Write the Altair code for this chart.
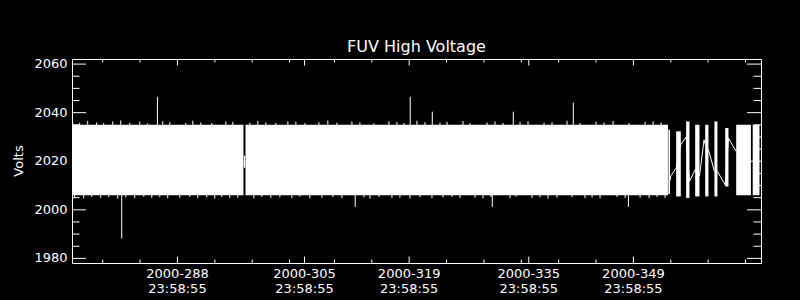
import altair as alt
import pandas as pd

FONT = "DejaVu Sans"
W, H = 689, 204

# ---- data (day of year 2000, fractional; volts) ----
# dense sampling blocks: start day, end day, min volts, max volts
seg_start = [274.89, 298.10, 354.68, 355.72, 357.05, 358.26, 359.60, 360.84, 362.28, 363.75, 365.96]
seg_end   = [297.83, 354.62, 354.90, 356.34, 357.50, 358.84, 360.04, 361.24, 362.72, 365.72, 366.87]
seg_lo    = [2006.0, 2006.0, 2006.5, 2005.5, 2004.9, 2005.5, 2005.5, 2005.5, 2009.6, 2006.0, 2006.0]
seg_hi    = [2035.0, 2035.0, 2033.0, 2032.3, 2036.4, 2035.0, 2035.0, 2036.4, 2033.7, 2035.0, 2035.0]

# sparse samples joined by lines
zig_day = [354.90, 355.01, 355.72, 356.34, 357.05, 357.50, 358.26, 358.84, 359.45, 359.60,
           360.04, 360.84, 361.24, 362.28, 362.72, 363.75]
zig_val = [2012.0, 2014.0, 2017.2, 2026.8, 2030.0, 2011.7, 2016.5, 2014.0, 2028.8, 2027.0,
           2024.7, 2015.8, 2015.8, 2010.3, 2029.5, 2024.0]

# gap sample
gap_day = [297.97]
gap_lo = [2017.3]
gap_hi = [2022.3]

# outliers
out_day = [281.54, 286.32, 312.78, 320.14, 323.09, 331.12, 333.93, 341.96, 349.33]
out_val = [1988.2, 2046.5, 2001.2, 2046.5, 2040.4, 2001.2, 2040.4, 2044.1, 2001.2]

# small excursions above the band
top_day = [274.98, 275.92, 276.99, 278.19, 279.13, 280.34, 281.41, 282.61, 283.95, 285.02,
           287.03, 287.97, 290.11, 291.05, 292.12, 293.59, 295.47, 296.40, 298.68, 299.75,
           300.82, 302.16, 303.77, 304.84, 306.04, 307.92, 309.12, 310.33, 312.34, 313.41,
           315.28, 317.29, 318.36, 319.30, 321.04, 322.11, 324.12, 325.06, 327.20, 328.14,
           330.41, 331.48, 332.55, 334.83, 335.90, 338.04, 339.11, 341.12, 342.86, 345.01,
           346.08, 347.28, 349.42, 351.57, 352.64, 353.71]
top_val = [2036.2, 2035.8, 2036.6, 2036.0, 2035.7, 2036.4, 2036.8, 2035.9, 2036.3, 2035.6,
           2036.5, 2036.1, 2035.8, 2036.7, 2036.0, 2035.7, 2036.4, 2036.2, 2035.9, 2036.6,
           2036.0, 2035.8, 2036.5, 2036.3, 2035.7, 2036.1, 2036.8, 2035.9, 2036.4, 2036.0,
           2035.6, 2036.5, 2036.2, 2035.8, 2036.7, 2036.1, 2035.9, 2036.3, 2036.6, 2035.7,
           2036.0, 2036.4, 2035.8, 2036.2, 2036.5, 2035.9, 2036.1, 2036.7, 2035.8, 2036.3,
           2036.0, 2036.6, 2035.7, 2036.2, 2036.4, 2035.9]

# small excursions below the band
bot_day = [275.25, 276.45, 277.53, 278.73, 279.80, 281.01, 282.08, 283.28, 284.49, 285.56,
           286.63, 287.70, 289.31, 290.65, 291.72, 292.92, 293.99, 294.93, 296.00, 297.07,
           299.22, 300.29, 301.49, 302.70, 304.30, 305.37, 306.71, 308.32, 309.79, 311.00,
           313.94, 314.75, 315.95, 317.69, 318.76, 320.10, 321.44, 323.05, 324.52, 325.73,
           326.80, 328.81, 329.88, 330.95, 333.49, 334.29, 336.44, 337.51, 338.58, 339.78,
           341.79, 343.53, 344.47, 345.54, 347.82, 348.89, 350.90, 352.10, 353.17, 354.24]
bot_val = [2005.0, 2004.7, 2005.3, 2004.9, 2005.2, 2004.6, 2005.1, 2004.8, 2005.4, 2004.9,
           2005.2, 2004.7, 2005.0, 2005.3, 2004.8, 2005.1, 2004.6, 2005.2, 2004.9, 2005.0,
           2004.7, 2005.3, 2004.9, 2005.1, 2004.8, 2005.4, 2004.7, 2005.0, 2005.2, 2004.8,
           2005.1, 2004.6, 2005.3, 2004.9, 2005.0, 2004.7, 2005.2, 2004.8, 2005.1, 2005.3,
           2004.9, 2005.0, 2004.7, 2005.2, 2004.8, 2005.4, 2004.9, 2005.1, 2004.6, 2005.0,
           2005.2, 2004.8, 2005.1, 2004.7, 2005.3, 2004.9, 2005.0, 2004.8, 2005.2, 2004.9]

# axes
y_major = [1980, 2000, 2020, 2040, 2060]
y_labels = ["1980", "2000", "2020", "2040", "2060"]
y_minor = [1985, 1990, 1995, 2005, 2010, 2015, 2025, 2030, 2035, 2045, 2050, 2055]
x_major = [288.9992, 305.9992, 319.9992, 335.9992, 349.9992]
x_labels = ["2000-288\n23:58:55", "2000-305\n23:58:55", "2000-319\n23:58:55",
            "2000-335\n23:58:55", "2000-349\n23:58:55"]
x_minor = [279, 284, 294, 299, 304, 310, 315, 325, 330, 335, 340, 345, 355, 360, 365]
title_text = ["FUV High Voltage"]
y_title = ["Volts"]

xs = alt.Scale(domain=[274.89, 367.07], nice=False, zero=False)
ys = alt.Scale(domain=[1978.1, 2062.1], nice=False, zero=False)
WHITE = "white"

seg = pd.DataFrame(dict(s=seg_start, e=seg_end, lo=seg_lo, hi=seg_hi))
band = alt.Chart(seg).mark_rect(color=WHITE, strokeWidth=0).encode(
    x=alt.X("s:Q", scale=xs, axis=None),
    x2="e:Q",
    y=alt.Y("lo:Q", scale=ys, axis=None),
    y2="hi:Q",
)

zig = alt.Chart(pd.DataFrame(dict(d=zig_day, v=zig_val))).mark_line(
    color=WHITE, strokeWidth=1).encode(
    x=alt.X("d:Q", scale=xs, axis=None),
    y=alt.Y("v:Q", scale=ys, axis=None),
    order="d:Q",
)

gap = alt.Chart(pd.DataFrame(dict(d=gap_day, lo=gap_lo, hi=gap_hi))).mark_rule(
    color=WHITE, strokeWidth=1.5).encode(
    x=alt.X("d:Q", scale=xs, axis=None),
    y=alt.Y("lo:Q", scale=ys, axis=None), y2="hi:Q")


def spikes(days, vals, base):
    df = pd.DataFrame(dict(d=days, v=vals))
    return alt.Chart(df).mark_rule(color=WHITE, strokeWidth=1).encode(
        x=alt.X("d:Q", scale=xs, axis=None),
        y=alt.Y("v:Q", scale=ys, axis=None),
        y2=alt.datum(base),
    )


out_l = spikes(out_day, out_val, 2020)
top_l = spikes(top_day, top_val, 2034)
bot_l = spikes(bot_day, bot_val, 2007)


def yticks(vals, x0, x1):
    return alt.Chart(pd.DataFrame(dict(v=vals))).mark_rule(color=WHITE, strokeWidth=1).encode(
        y=alt.Y("v:Q", scale=ys, axis=None), x=alt.value(x0), x2=alt.value(x1))


def xticks(vals, y0, y1):
    return alt.Chart(pd.DataFrame(dict(d=vals))).mark_rule(color=WHITE, strokeWidth=1).encode(
        x=alt.X("d:Q", scale=xs, axis=None), y=alt.value(y0), y2=alt.value(y1))


ticks = [
    yticks(y_major, 0, 14), yticks(y_minor, 0, 7.5),
    yticks(y_major, W, W - 14), yticks(y_minor, W, W - 7.5),
    xticks(x_major, H, H - 6.5), xticks(x_minor, H, H - 3.5),
    xticks(x_major, 0, 6.5), xticks(x_minor, 0, 3.5),
]

xlab = alt.Chart(pd.DataFrame(dict(d=x_major, t=x_labels))).mark_text(
    color=WHITE, font=FONT, fontSize=13, align="center", baseline="alphabetic",
    lineBreak="\n", lineHeight=15).encode(
    x=alt.X("d:Q", scale=xs, axis=None), y=alt.value(218.7), text="t:N")

ylab = alt.Chart(pd.DataFrame(dict(v=y_major, t=y_labels))).mark_text(
    color=WHITE, font=FONT, fontSize=13, align="right", baseline="middle").encode(
    y=alt.Y("v:Q", scale=ys, axis=None), x=alt.value(-4.5), text="t:N")

ytitle = alt.Chart(pd.DataFrame(dict(t=y_title))).mark_text(
    color=WHITE, font=FONT, fontSize=13, align="center", baseline="middle", angle=270).encode(
    x=alt.value(-53.5), y=alt.value(H / 2), text="t:N")

title = alt.Chart(pd.DataFrame(dict(t=title_text))).mark_text(
    color=WHITE, font=FONT, fontSize=16, align="center", baseline="alphabetic").encode(
    x=alt.value(W / 2), y=alt.value(-6.7), text="t:N")

chart = alt.layer(band, zig, gap, out_l, top_l, bot_l, *ticks, xlab, ylab, ytitle, title).properties(
    width=W, height=H, autosize="none",
    padding={"left": 72, "top": 59, "right": 39, "bottom": 37},
).configure(background="black").configure_view(stroke=WHITE, strokeWidth=1)

chart.save("out.html", embed_options={"renderer": "svg", "actions": False})
